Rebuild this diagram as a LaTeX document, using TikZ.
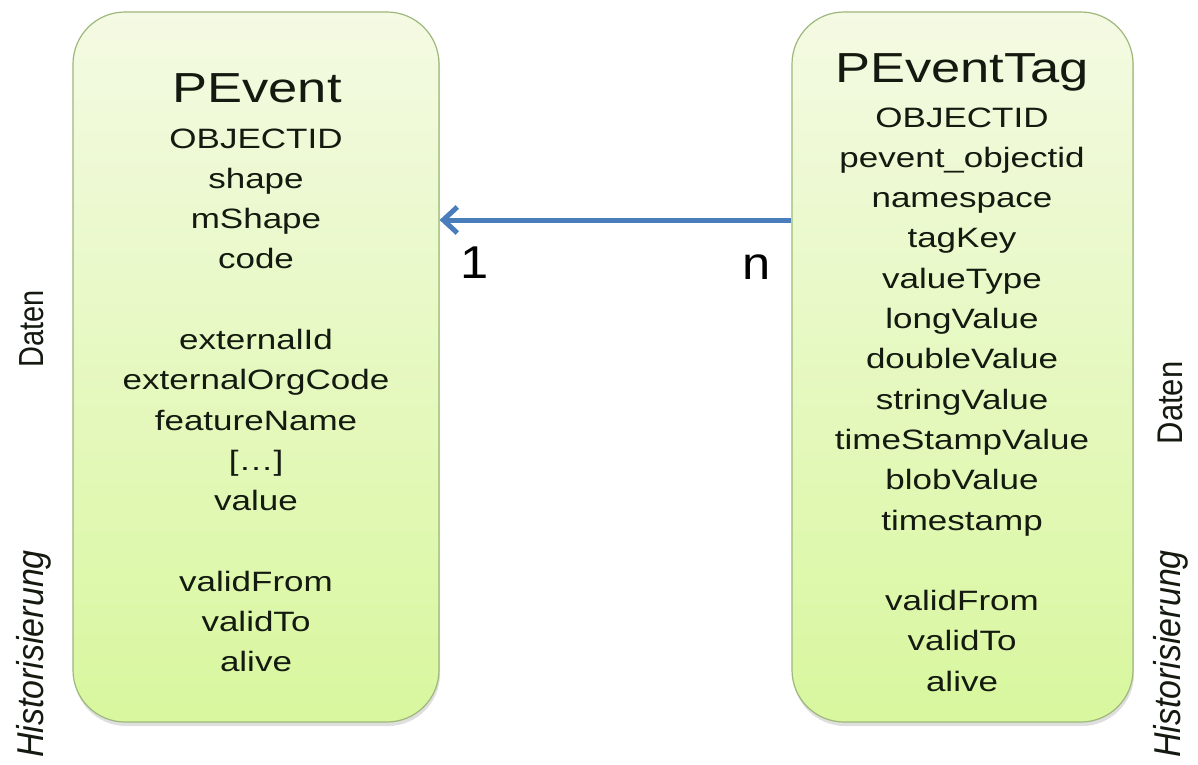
\documentclass[tikz,border=0pt]{standalone}
\usepackage{fontspec}
\setmainfont{Liberation Sans}
\usepackage{graphicx}
\usetikzlibrary{arrows.meta,shadows}
\definecolor{boxtop}{HTML}{F4FAE3}
\definecolor{boxbot}{HTML}{D8F79E}
\definecolor{boxline}{HTML}{9DB87A}
\definecolor{arrblue}{HTML}{4A7EBB}
\definecolor{txt}{HTML}{141A10}
\newcommand{\hstretch}[1]{\scalebox{1.25}[1]{#1}}
\begin{document}
\begin{tikzpicture}[x=1pt,y=-1pt,
  entity/.style={draw=boxline, line width=1.2pt, rounded corners=52pt,
    top color=boxtop, bottom color=boxbot, minimum height=710pt, inner sep=0pt,
    drop shadow={shadow xshift=1pt,shadow yshift=-4pt,opacity=0.25}},
  title/.style={anchor=base, inner sep=0pt, text=txt, font=\fontsize{42}{46}\selectfont},
  fld/.style={anchor=base, inner sep=0pt, text=txt, font=\fontsize{28}{32}\selectfont},
  card/.style={anchor=base, inner sep=0pt, text=black, font=\fontsize{46}{50}\selectfont},
  side/.style={anchor=base, inner sep=0pt, rotate=90, text=txt, font=\fontsize{29}{32}\selectfont},
  sideit/.style={anchor=base, inner sep=0pt, rotate=90, text=txt, font=\fontsize{34}{36}\selectfont\itshape},
  rel/.style={draw=arrblue, line width=5pt, -{Straight Barb[length=14pt,width=26pt]}}
]
\useasboundingbox[fill=white] (0,0) rectangle (1198,764);

% entity boxes
\node[entity, minimum width=366pt] (pevent) at (256,367) {};
\node[entity, minimum width=341pt] (ptag) at (962.5,367) {};

% titles
\node[title] (tpevent) at (257,102) {\hstretch{PEvent}};
\node[title] (tptag) at (962,82) {\hstretch{PEventTag}};

% fields of PEvent
\foreach \t/\k [count=\i] in {OBJECTID/0, shape/1, mShape/2, code/3,
  externalId/5, externalOrgCode/6, featureName/7, {[…]}/8, value/9,
  validFrom/11, validTo/12, alive/13}
  \node[fld] (lf\i) at (256,148+40.3*\k) {\hstretch{\t}};

% fields of PEventTag
\foreach \t/\k [count=\i] in {OBJECTID/0, pevent\_objectid/1, namespace/2,
  tagKey/3, valueType/4, longValue/5, doubleValue/6, stringValue/7,
  timeStampValue/8, blobValue/9, timestamp/10,
  validFrom/12, validTo/13, alive/14}
  \node[fld] (rf\i) at (962,127+40.3*\k) {\hstretch{\t}};

% relation
\coordinate (ay) at (0,220);
\draw[rel] (ptag.west |- ay) -- (pevent.east |- ay);
\node[card] (cone) at (475,278) {\scalebox{1.1}[1]{1}};
\node[card] (cn) at (757,279) {\scalebox{1.1}[1]{n}};

% side labels
\node[side] (dl) at (43,329) {\scalebox{1}[1.2]{Daten}};
\node[sideit] (hl) at (43,654) {\scalebox{1}[1.1]{Historisierung}};
\node[side, font=\fontsize{31}{34}\selectfont] (dr) at (1182,403) {\scalebox{1}[1.15]{Daten}};
\node[sideit] (hr) at (1180,654) {\scalebox{1}[1.1]{Historisierung}};
\end{tikzpicture}
\end{document}
